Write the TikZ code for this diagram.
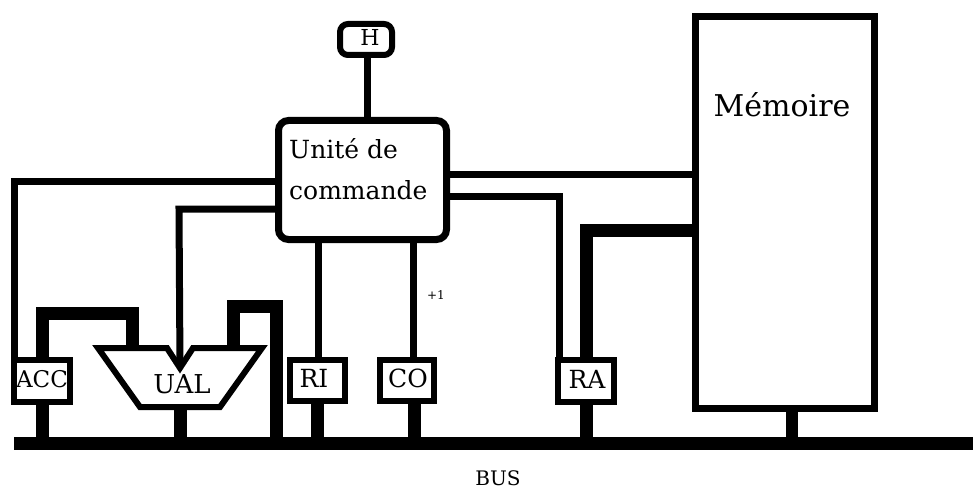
\documentclass[tikz,border=0pt]{standalone}
\usepackage{fontspec}
\setmainfont{DejaVu Serif}
\usetikzlibrary{calc}
\begin{document}
\begin{tikzpicture}[x=1pt,y=-1pt,
  thin/.style={line width=7pt},
  thick/.style={line width=13pt},
  reg/.style={draw,line width=6pt,fill=white,inner sep=0pt},
  lbl/.style={inner sep=0pt}]
\useasboundingbox (0,0) rectangle (973,489);
% nodes
\node[reg,minimum width=56pt,minimum height=42pt] (acc) at (42,381) {};
\node[reg,minimum width=55pt,minimum height=41pt] (ri) at (317.5,380.5) {};
\node[reg,minimum width=54pt,minimum height=41pt] (co) at (407,380.5) {};
\node[reg,minimum width=56pt,minimum height=42pt] (ra) at (586,381) {};
\node[lbl,anchor=base,font=\fontsize{23}{23}\selectfont] (acct) at (42,387) {ACC};
\node[lbl,anchor=base,font=\fontsize{25}{25}\selectfont] (rit) at (314,387) {RI};
\node[lbl,anchor=base,font=\fontsize{25}{25}\selectfont] (cot) at (408,387) {CO};
\node[lbl,anchor=base,font=\fontsize{25}{25}\selectfont] (rat) at (587,388) {RA};
\node[reg,line width=7pt,minimum width=179pt,minimum height=392pt] (mem) at (785,212.5) {};
\node[lbl,anchor=base,font=\fontsize{30}{30}\selectfont] (memt) at (782,117) {Mémoire};
\node[reg,line width=7pt,rounded corners=10pt,minimum width=168pt,minimum height=119pt] (uc) at (362.5,180) {};
\node[lbl,anchor=base west,font=\fontsize{25}{25}\selectfont] (uct1) at (289,158) {Unité de};
\node[lbl,anchor=base west,font=\fontsize{25}{25}\selectfont] (uct2) at (289,199) {commande};
\node[reg,rounded corners=8pt,minimum width=52pt,minimum height=31pt] (h) at (366,39.5) {};
\node[lbl,anchor=base,font=\fontsize{22}{22}\selectfont] (ht) at (370,46) {H};
\node[lbl,anchor=base,font=\fontsize{20}{20}\selectfont] (bus) at (498,485) {BUS};
\node[lbl,anchor=base,font=\fontsize{12}{12}\selectfont] (plus) at (436,299) {+1};
% coordinates
\coordinate (b1) at (14,181);
\coordinate (b2) at (179,209);
\coordinate (b3) at (559,196);
\coordinate (b4) at (586,230);
\coordinate (ualtop) at (180,368);
\coordinate (busL) at (14,443);
\coordinate (busR) at (973,443);
\coordinate (t1) at (42,313);
\coordinate (t2) at (132,313);
\coordinate (t3) at (233,306);
\coordinate (t4) at (276,306);
\coordinate (ualL) at (132,348);
\coordinate (ualR) at (233,348);
\coordinate (ualB) at (180,407);
% bus
\draw[thick] (busL) -- (busR);
% thin lines
\draw[thin] (h.south -| 367,0) -- (uc.north -| 367,0);
\draw[thin] (acc.north -| b1) -- (b1) -- (b1 -| uc.west);
\draw[thin] (b2 -| uc.west) -- (b2) -- (ualtop);
\draw[thin] (uc.south -| 318,0) -- (ri.north -| 318,0);
\draw[thin] (uc.south -| 413,0) -- (co.north -| 413,0);
\draw[thin] (uc.east |- 0,174) -- (mem.west |- 0,174);
\draw[thin] (uc.east |- b3) -- (b3) -- (b3 |- ra.north);
% thick lines
\draw[thick] (acc.north) -- (t1) -- (t2) -- (ualL);
\draw[thick] (ualR) -- (t3) -- (t4) -- (t4 |- busL);
\draw[thick] (acc.south) -- (acc.south |- busL);
\draw[thick] (ualB) -- (ualB |- busL);
\draw[thick] (ri.south) -- (ri.south |- busL);
\draw[thick] (co.south -| 414,0) -- (busL -| 414,0);
\draw[thick] (ra.south) -- (ra.south |- busL);
\draw[line width=12pt] (mem.south -| 792,0) -- (busL -| 792,0);
\draw[thick] (mem.west |- b4) -- (b4) -- (ra.north);
% UAL
\draw[line width=6pt,fill=white,line join=miter] (98,348) -- (167,348) -- (ualtop) -- (193,348) -- (262,348) -- (220,407) -- (140,407) -- cycle;
\node[lbl,anchor=base,font=\fontsize{26}{26}\selectfont] (ual) at (182,393) {UAL};
\end{tikzpicture}
\end{document}
